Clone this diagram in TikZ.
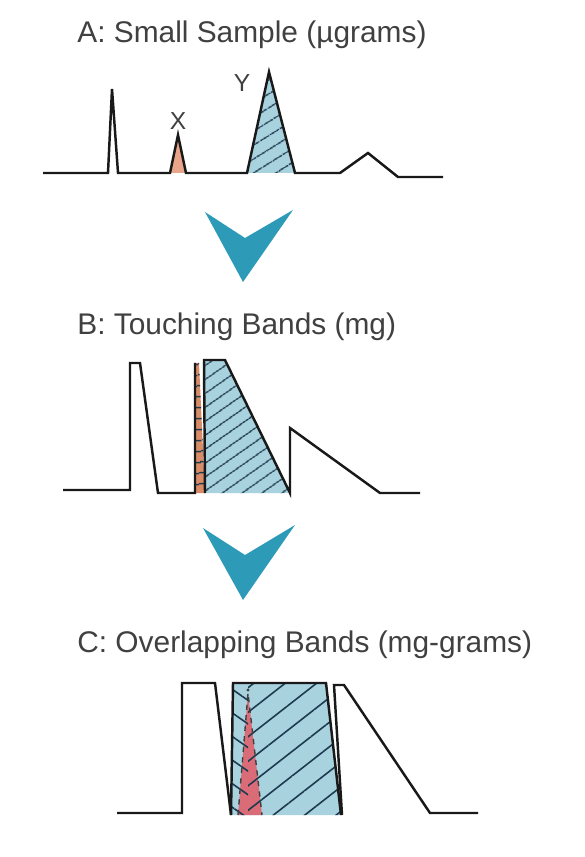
\documentclass[tikz,border=0pt]{standalone}
\usepackage{fontspec}
\setmainfont{Liberation Sans}
\usetikzlibrary{patterns.meta}

\definecolor{arrowteal}{RGB}{45,154,184}
\definecolor{bandblue}{RGB}{168,210,222}
\definecolor{bandsalmon}{RGB}{233,165,138}
\definecolor{bandrust}{RGB}{216,140,104}
\definecolor{bandred}{RGB}{218,108,120}
\definecolor{hatchblue}{RGB}{30,58,80}
\definecolor{labelgrey}{RGB}{64,64,64}

\begin{document}
\begin{tikzpicture}[x=0.02cm, y=-0.02cm,
    trace/.style={line width=1.4pt, line join=miter, draw=black!90},
    title/.style={anchor=west, inner sep=0pt, text=labelgrey, font=\fontsize{17}{19}\selectfont},
    peaklabel/.style={inner sep=0pt, text=labelgrey, font=\fontsize{14}{16}\selectfont},
    chevron/.style={fill=arrowteal},
    hatch/.style={pattern={Lines[angle=#1, distance=6.5pt, line width=.9pt]}, pattern color=hatchblue},
    widehatch/.style={pattern={Lines[angle=#1, distance=11pt, line width=.9pt]}, pattern color=hatchblue}]

    \useasboundingbox (0,0) rectangle (584,857);

    % A: small sample
    \node[title] (titleA) at (77,35) {A: Small Sample (µgrams)};
    \fill[bandsalmon] (170,173) -- (178,135) -- (186,173) -- cycle;
    \fill[bandblue] (247,173) -- (269,72) -- (295,173) -- cycle;
    \path[hatch=32] (247,173) -- (269,72) -- (295,173) -- cycle;
    \draw[trace] (43,173) -- (108,173) -- (112,89) -- (118,173) -- (170,173)
        -- (178,135) -- (186,173) -- (247,173) -- (269,72) -- (295,173)
        -- (340,173) -- (368,153) -- (398,177) -- (443,177);
    \node[peaklabel] (labelX) at (178,121) {X};
    \node[peaklabel] (labelY) at (242,83) {Y};

    \fill[chevron] (205,212) -- (245,238) -- (293,210) -- (243,282) -- cycle;

    % B: touching bands
    \node[title] (titleB) at (77,327) {B: Touching Bands (mg)};
    \fill[bandrust] (195,493) -- (195,363) -- (199,363) -- (205,493) -- cycle;
    \path[hatch=8] (195,493) -- (195,363) -- (199,363) -- (205,493) -- cycle;
    \fill[bandblue] (205,493) -- (204,360) -- (225,360) -- (290,493) -- cycle;
    \path[hatch=35] (205,493) -- (204,360) -- (225,360) -- (290,493) -- cycle;
    \draw[trace] (63,490) -- (130,490) -- (130,363) -- (140,363) -- (158,493)
        -- (195,493) -- (195,363);
    \draw[trace] (205,493) -- (204,360) -- (225,360) -- (290,493) -- (290,428)
        -- (380,493) -- (420,493);

    \fill[chevron] (203,528) -- (245,555) -- (295,525) -- (243,600) -- cycle;

    % C: overlapping bands
    \node[title] (titleC) at (77,645) {C: Overlapping Bands (mg-grams)};
    \fill[bandblue] (231,815) -- (233,683) -- (326,683) -- (341,815) -- cycle;
    \fill[bandred] (238,815) -- (248,693) -- (262,815) -- cycle;
    \path[widehatch=-35] (231,815) -- (233,683) -- (248,683) -- (248,815) -- cycle;
    \path[widehatch=38] (248,815) -- (248,683) -- (326,683) -- (341,815) -- cycle;
    \draw[labelgrey, line width=.8pt, dashed] (238,815) -- (248,693) -- (262,815);
    \fill[labelgrey] (248,690) circle (1.6);
    \draw[trace] (117,813) -- (182,813) -- (182,683) -- (215,683) -- (231,815);
    \draw[trace] (231,815) -- (233,683) -- (326,683) -- (341,815);
    \draw[trace] (342,815) -- (334,685) -- (344,685) -- (430,813) -- (478,813);
\end{tikzpicture}
\end{document}
